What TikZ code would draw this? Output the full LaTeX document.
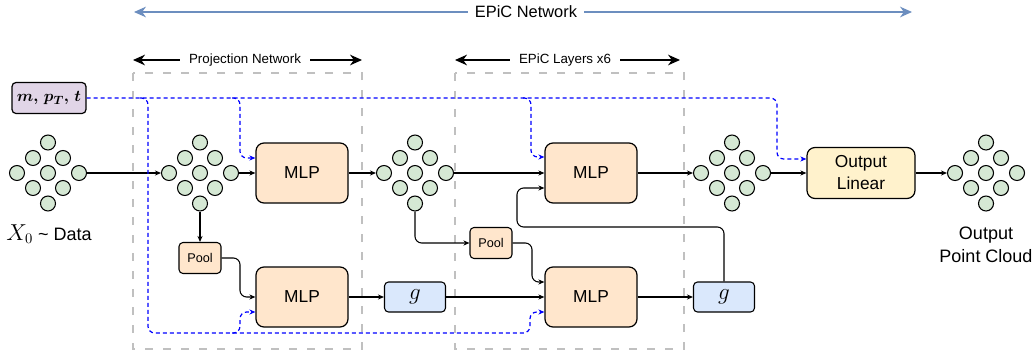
\documentclass[tikz,border=0pt]{standalone}
\usepackage{fontspec}
\setmainfont{Liberation Sans}
\usepackage{bm}
\usetikzlibrary{arrows.meta,calc}
\definecolor{mlpfill}{HTML}{FFE6CC}
\definecolor{gfill}{HTML}{DAE8FC}
\definecolor{outfill}{HTML}{FFF2CC}
\definecolor{ptfill}{HTML}{D5E8D4}
\definecolor{lavfill}{HTML}{E1D5E7}
\definecolor{netblue}{HTML}{6C8EBF}
\definecolor{boxgray}{RGB}{192,192,192}
\tikzset{
  box/.style={draw=black, line width=0.9pt, rounded corners=6pt, fill=mlpfill,
    minimum width=69pt, minimum height=45pt, inner sep=0pt, font=\fontsize{13}{16.5}\selectfont},
  poolbox/.style={draw=black, line width=0.8pt, rounded corners=3pt, fill=mlpfill,
    minimum width=31.5pt, minimum height=23.25pt, inner sep=0pt, font=\fontsize{9.5}{11}\selectfont},
  gbox/.style={draw=black, line width=0.8pt, rounded corners=3pt, fill=gfill,
    minimum width=45.75pt, minimum height=22.5pt, inner sep=0pt, font=\fontsize{16.5}{17}\selectfont},
  lavbox/.style={draw=black, line width=0.9pt, rounded corners=3pt, fill=lavfill,
    minimum width=55.5pt, minimum height=23.25pt, inner sep=1pt, font=\fontsize{13}{15}\selectfont},
  ptc/.style={circle, draw=black, line width=0.8pt, fill=ptfill, minimum size=11.25pt, inner sep=0pt},
  conn/.style={line width=0.8pt, -{Stealth[length=4.5pt,width=3.8pt]}, rounded corners=5pt},
  cdash/.style={blue, line width=0.9pt, dash pattern=on 3pt off 2.25pt,
    -{Stealth[length=4.5pt,width=3.8pt]}, rounded corners=5pt},
  region/.style={boxgray, line width=2.2pt, dash pattern=on 6pt off 7.5pt},
  spanarrow/.style={line width=1.1pt, {Stealth[length=9pt,width=8pt]}-{Stealth[length=9pt,width=8pt]}},
  netarrow/.style={netblue, line width=1pt, {Stealth[length=9pt,width=8pt]}-{Stealth[length=9pt,width=8pt]}},
  spanlabel/.style={fill=white, inner ysep=2pt, inner xsep=7pt, font=\fontsize{10}{12}\selectfont},
  lbl/.style={inner sep=0pt, font=\fontsize{13.5}{17}\selectfont},
}
\newcommand{\pcloud}[3]{%
  \begin{scope}[shift={(#2,#3)}]
    \node[ptc] (#1-t) at (0,-30.5) {};
    \node[ptc] (#1-tl) at (-15,-15) {};
    \node[ptc] (#1-tr) at (15,-15) {};
    \node[ptc] (#1-l) at (-31,0) {};
    \node[ptc] (#1-c) at (0,0) {};
    \node[ptc] (#1-r) at (31,0) {};
    \node[ptc] (#1-bl) at (-15,15) {};
    \node[ptc] (#1-br) at (15,15) {};
    \node[ptc] (#1-b) at (0,30.5) {};
  \end{scope}}
\begin{document}
\begin{tikzpicture}[x=0.75pt,y=-0.75pt]
\useasboundingbox (0,0) rectangle (1035,354);

% dashed regions
\draw[region] (133,73) rectangle (362,349);
\draw[region] (455,73) rectangle (684,349);

% span arrows
\coordinate (e1) at (134,12); \coordinate (e2) at (912,12);
\draw[netarrow] (e1) -- (e2);
\node[spanlabel, font=\fontsize{12.3}{14}\selectfont, inner xsep=5pt] (netlab) at (526,12) {EPiC Network};
\coordinate (p1) at (133,60); \coordinate (p2) at (362,60);
\draw[spanarrow] (p1) -- (p2);
\node[spanlabel] (projlab) at (245,60) {Projection Network};
\coordinate (l1) at (455,60); \coordinate (l2) at (680,60);
\draw[spanarrow] (l1) -- (l2);
\node[spanlabel] (laylab) at (565,60) {EPiC Layers x6};

% point clouds
\pcloud{pc1}{48}{173}
\pcloud{pc2}{200}{173}
\pcloud{pc3}{415}{173}
\pcloud{pc4}{732}{173}
\pcloud{pc5}{986}{173}

% boxes
\node[box] (mlp1) at (302,173) {MLP};
\node[box] (mlp2) at (302,297) {MLP};
\node[box] (mlp3) at (591,173) {MLP};
\node[box] (mlp4) at (591,297) {MLP};
\node[poolbox] (pool1) at (200,258) {Pool};
\node[poolbox] (pool2) at (491,243) {Pool};
\node[gbox] (g1) at (415,297) {$g$};
\node[gbox] (g2) at (724,297) {$g$};
\node[box, fill=outfill, minimum width=81pt, minimum height=38.25pt, align=center] (out) at (861,173) {Output\\Linear};
\node[lavbox] (cond) at (49,98) {$\bm{m,\,p_T,\,t}$};

% labels
\node[lbl] (xlab) at (49,234) {{\fontsize{16}{17}\selectfont$X_0$} \textasciitilde{} Data};
\node[lbl, align=center] (olab) at (986,245) {Output\\Point Cloud};

% connectors
\draw[conn] (pc1-r.east) -- (pc2-l.west);
\draw[conn] (pc2-r.east) -- (mlp1.west);
\draw[conn] (mlp1.east) -- (pc3-l.west);
\draw[conn] (pc2-b.south) -- (pool1.north);
\coordinate (k1) at (240,297);
\draw[conn] (pool1.east) -| (k1) -- (mlp2.west);
\draw[conn] (mlp2.east) -- (g1.west);
\draw[conn] (g1.east) -- (mlp4.west);
\draw[conn] (pc3-r.east) -- (mlp3.west);
\draw[conn] (pc3-b.south) |- (pool2.west);
\coordinate (k2) at (532,282);
\draw[conn] (pool2.east) -| (k2) -- (k2 -| mlp4.west);
\draw[conn] (mlp3.east) -- (pc4-l.west);
\draw[conn] (mlp4.east) -- (g2.west);
\coordinate (k3) at (517,227); \coordinate (k4) at (517,188);
\draw[conn] (g2.north) |- (k3) -- (k4) -- (k4 -| mlp3.west);
\draw[conn] (pc4-r.east) -- (out.west);
\draw[conn] (out.east) -- (pc5-l.west);

% conditioning (dashed blue)
\coordinate (m1) at (777,98); \coordinate (m2) at (777,159);
\draw[cdash] (cond.east) -- (m1) -- (m2) -- (m2 -| out.west);
\coordinate (a0) at (140,98); \coordinate (a1) at (148,98); \coordinate (a2) at (148,333);
\coordinate (a3) at (530,333); \coordinate (a4) at (530,312);
\draw[cdash] (a0) -- (a1) -- (a2) -- (a3) -- (a4) -- (a4 -| mlp4.west);
\coordinate (b0) at (232,98); \coordinate (b1) at (240,98); \coordinate (b2) at (240,158);
\draw[cdash] (b0) -- (b1) -- (b2) -- (b2 -| mlp1.west);
\coordinate (c0) at (232,333); \coordinate (c1) at (240,333); \coordinate (c2) at (240,312);
\draw[cdash] (c0) -- (c1) -- (c2) -- (c2 -| mlp2.west);
\coordinate (d0) at (523,98); \coordinate (d1) at (531,98); \coordinate (d2) at (531,157);
\draw[cdash] (d0) -- (d1) -- (d2) -- (d2 -| mlp3.west);
\end{tikzpicture}
\end{document}
